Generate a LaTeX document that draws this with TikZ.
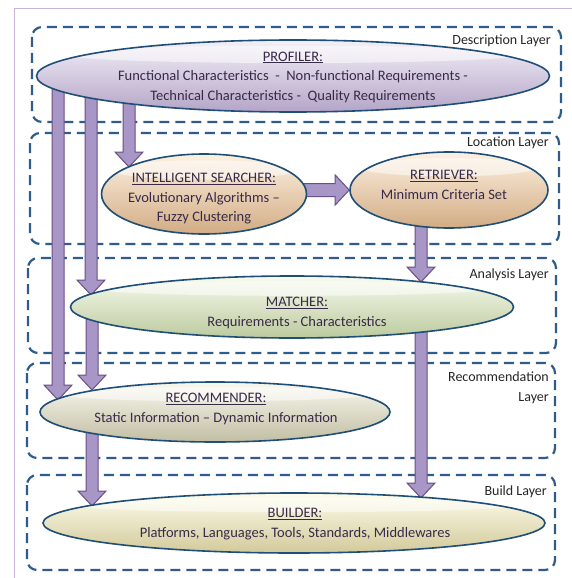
\documentclass[tikz,border=0pt]{standalone}
\usepackage{fontspec}
\setmainfont{Carlito}
\usetikzlibrary{calc,shapes.geometric}
\pgfdeclarelayer{bgbg}
\pgfdeclarelayer{bg}
\pgfsetlayers{bgbg,bg,main}
\definecolor{dashblue}{HTML}{2F5D8A}
\definecolor{rimblue}{HTML}{1F4E79}
\definecolor{framepurple}{HTML}{C9B3D9}
\definecolor{arrowfill}{HTML}{A796C6}
\definecolor{arrowdraw}{HTML}{6B4F87}
\definecolor{txt}{HTML}{382A48}
\definecolor{lavA}{HTML}{F4F0F9}
\definecolor{lavB}{HTML}{DCD1E9}
\definecolor{lavC}{HTML}{B4A5C7}
\definecolor{peachA}{HTML}{FDF1E2}
\definecolor{peachB}{HTML}{F4D4AE}
\definecolor{peachC}{HTML}{D2AC84}
\definecolor{greenA}{HTML}{F7FBEE}
\definecolor{greenB}{HTML}{E2EDC9}
\definecolor{greenC}{HTML}{BCCA9E}
\definecolor{beigeA}{HTML}{F9F8EE}
\definecolor{beigeB}{HTML}{EAE7CF}
\definecolor{beigeC}{HTML}{C2BEA4}
\definecolor{yellowA}{HTML}{FEFDEC}
\definecolor{yellowB}{HTML}{F7F2C3}
\definecolor{yellowC}{HTML}{D2CA9A}
\tikzset{
  layerbox/.style={draw=dashblue, line width=2.2pt, dash pattern=on 10pt off 6pt, rounded corners=10pt},
  layerlabel/.style={anchor=east, text=black!85, font=\fontsize{14}{20}\selectfont, align=right, inner sep=0pt},
  oval/.style={ellipse, draw=rimblue, line width=1.6pt, inner sep=0pt,
    path picture={\fill[white,opacity=0.5] let \p1=(path picture bounding box.south west),
      \p2=(path picture bounding box.north east) in
      ({(\x1+\x2)/2},{\y2-0.2*(\y2-\y1)}) ellipse [x radius={0.45*(\x2-\x1)}, y radius={0.12*(\y2-\y1)}];}},
  ovaltext/.style={text=txt, font=\fontsize{14.5}{19.5}\selectfont, align=center, inner sep=0pt},
  blockarrow/.style={fill=arrowfill, draw=arrowdraw, line width=1pt, line join=miter},
  lavfill/.style={top color=lavA, middle color=lavB, bottom color=lavC},
  peachfill/.style={top color=peachA, middle color=peachB, bottom color=peachC},
  greenfill/.style={top color=greenA, middle color=greenB, bottom color=greenC},
  beigefill/.style={top color=beigeA, middle color=beigeB, bottom color=beigeC},
  yellowfill/.style={top color=yellowA, middle color=yellowB, bottom color=yellowC},
}
\newcommand\varrow[2]{\path[blockarrow] let \p1=(#1), \p2=(#2) in
  (\x1-6pt,\y1) -- (\x1-6pt,\y2+15pt) -- (\x1-14pt,\y2+15pt) -- (\x1,\y2) --
  (\x1+14pt,\y2+15pt) -- (\x1+6pt,\y2+15pt) -- (\x1+6pt,\y1) -- cycle;}
\newcommand\harrow[2]{\path[blockarrow] let \p1=(#1), \p2=(#2) in
  (\x1,\y2-6.5pt) -- (\x2-14pt,\y2-6.5pt) -- (\x2-14pt,\y2-15pt) -- (\x2,\y2) --
  (\x2-14pt,\y2+15pt) -- (\x2-14pt,\y2+6.5pt) -- (\x1,\y2+6.5pt) -- cycle;}
\begin{document}
\begin{tikzpicture}[x=1pt,y=-1pt]
\useasboundingbox (0,0) rectangle (572,578);

% ellipses
\node[oval, lavfill, minimum width=513pt, minimum height=72pt] (profiler) at (293,76) {};
\node[oval, peachfill, minimum width=205pt, minimum height=80pt] (searcher) at (204,194) {};
\node[oval, peachfill, minimum width=198pt, minimum height=76pt] (retriever) at (449,190) {};
\node[oval, greenfill, minimum width=443pt, minimum height=62pt] (matcher) at (292,307) {};
\node[oval, beigefill, minimum width=350pt, minimum height=60pt] (recommender) at (215,412) {};
\node[oval, yellowfill, minimum width=502pt, minimum height=60pt] (builder) at (294,523) {};

% texts
\node[ovaltext] (profilertext) at (293,77) {\underline{PROFILER:}\\Functional Characteristics \ - \ Non-functional Requirements -\\Technical Characteristics - \ Quality Requirements};
\node[ovaltext] (searchertext) at (204,199) {\underline{INTELLIGENT SEARCHER:}\\Evolutionary Algorithms --\\Fuzzy Clustering};
\node[ovaltext] (retrievertext) at (444,185) {\underline{RETRIEVER:}\\Minimum Criteria Set};
\node[ovaltext] (matchertext) at (297,313) {\underline{MATCHER:}\\Requirements - Characteristics};
\node[ovaltext] (recommendertext) at (216,409) {\underline{RECOMMENDER:}\\Static Information -- Dynamic Information};
\node[ovaltext] (buildertext) at (295,524) {\underline{BUILDER:}\\Platforms, Languages, Tools, Standards, Middlewares};

% layer labels
\node[layerlabel] (ldesc) at (551,41) {Description Layer};
\node[layerlabel] (lloc) at (549,143) {Location Layer};
\node[layerlabel] (lana) at (549,275) {Analysis Layer};
\node[layerlabel] (lrec) at (549,388) {Recommendation\\Layer};
\node[layerlabel] (lbuild) at (547,492) {Build Layer};

% column coordinates and arrow tips
\coordinate (c1) at (58,0);
\coordinate (c2) at (91,0);
\coordinate (c3) at (129,0);
\coordinate (c4) at (421,0);
\coordinate (t1) at (58,400);
\coordinate (t2) at (91,295);
\coordinate (t3) at (129,167);
\coordinate (t5) at (421,282);
\coordinate (t6) at (92,390);
\coordinate (t7) at (421,498);
\coordinate (t8) at (92,506);

\begin{pgfonlayer}{bgbg}
\fill[white] (0,0) rectangle (572,578);
\draw[framepurple, line width=1pt] (14,580) -- (14,9) -- (574,9);
\draw[layerbox] (32,27) rectangle (561,122);
\draw[layerbox] (30,133) rectangle (559,244);
\draw[layerbox] (28,258) rectangle (556,353);
\draw[layerbox] (27,363) rectangle (555,458);
\draw[layerbox] (27,475) rectangle (555,570);
\end{pgfonlayer}

\begin{pgfonlayer}{bg}
\varrow{c1 |- profiler.center}{t1}
\varrow{c2 |- profiler.center}{t2}
\varrow{c3 |- profiler.center}{t3}
\harrow{searcher.center}{retriever.west}
\varrow{c4 |- retriever.center}{t5}
\varrow{t6 |- matcher.center}{t6}
\varrow{c4 |- matcher.center}{t7}
\varrow{t8 |- recommender.center}{t8}
\end{pgfonlayer}
\end{tikzpicture}
\end{document}
